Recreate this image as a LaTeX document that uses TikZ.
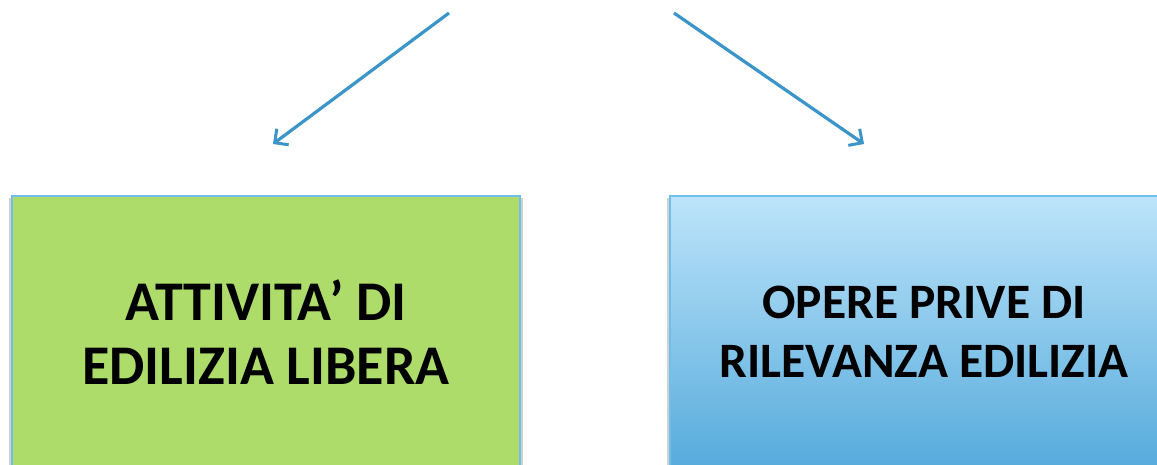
\documentclass[tikz,border=0pt]{standalone}
\usepackage{fontspec}
\setmainfont{Carlito}
\usetikzlibrary{arrows.meta,shadows}
\definecolor{arrowblue}{RGB}{59,149,200}
\definecolor{edgeblue}{RGB}{112,190,234}
\definecolor{leafgreen}{RGB}{173,220,106}
\definecolor{skytop}{RGB}{189,228,250}
\definecolor{skybottom}{RGB}{86,171,220}

\begin{document}
\begin{tikzpicture}[x=1pt,y=-1pt,>={Straight Barb[length=10pt,width=20pt,line width=3pt]}]
	\tikzset{
		kindbox/.style={draw=edgeblue, line width=1.5pt, minimum width=508pt, minimum height=272pt, align=center,
			general shadow={fill=black, opacity=0.18, shadow xshift=0pt, shadow yshift=-4pt, shadow scale=1.012}},
		pointer/.style={->, draw=arrowblue, line width=3.2pt}
	}
	\useasboundingbox (0,0) rectangle (1157,465);
	\clip (0,0) rectangle (1157,465);
	\coordinate (leftfrom) at (449,13);
	\coordinate (leftto) at (273,144);
	\coordinate (rightfrom) at (674,13);
	\coordinate (rightto) at (864,144);
	\draw [pointer] (leftfrom) -- (leftto);
	\draw [pointer] (rightfrom) -- (rightto);
	\node [kindbox, fill=leafgreen, font=\fontsize{56}{64}\selectfont\bfseries] (libera) at (266,332) {ATTIVITA’ DI\\EDILIZIA LIBERA};
	\node [kindbox, top color=skytop, bottom color=skybottom, font=\fontsize{49.5}{59}\selectfont\bfseries] (rilevanza) at (924,332) {OPERE PRIVE DI\\RILEVANZA EDILIZIA};
\end{tikzpicture}
\end{document}
